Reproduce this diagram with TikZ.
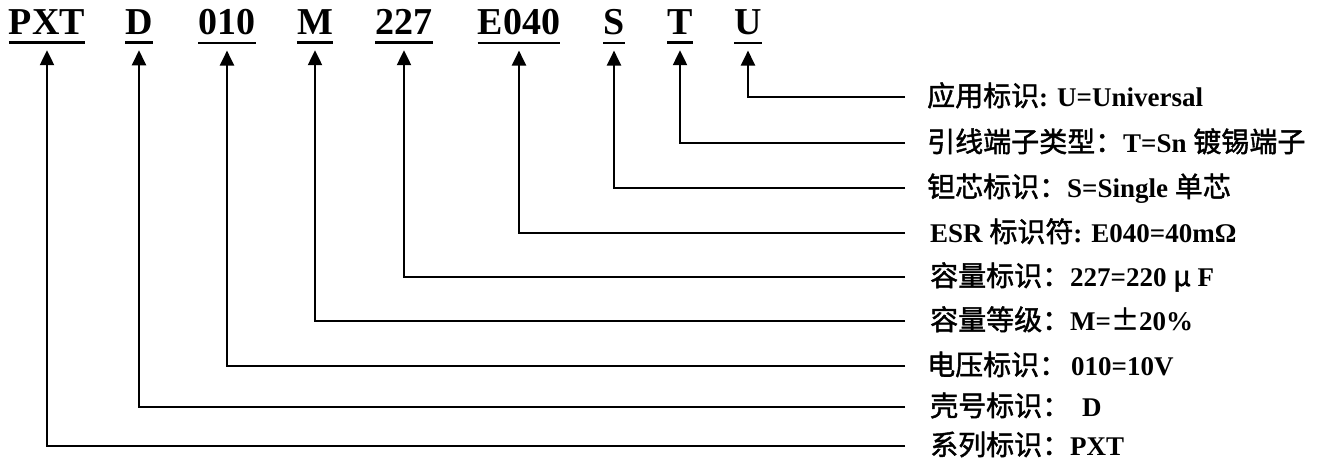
\documentclass[tikz,border=0pt]{standalone}
\usepackage{fontspec}
\setmainfont{Liberation Serif}
\newfontfamily\cjk{Noto Sans CJK SC}[FakeBold=1.5]
\usetikzlibrary{arrows.meta}
\newcommand{\zh}[1]{{\cjk\mdseries\fontsize{28}{30}\selectfont #1}}

\tikzset{
  code/.style={font=\fontsize{38}{40}\selectfont\bfseries, inner sep=0pt, anchor=base},
  desc/.style={font=\fontsize{27}{30}\selectfont\bfseries, inner sep=0pt, anchor=base west},
  lead/.style={line width=2.3pt, -{Triangle[length=15pt,width=14pt]}},
  uline/.style={line width=2.7pt}
}

\begin{document}
\begin{tikzpicture}[x=1pt,y=-1pt]
    \useasboundingbox (0,0) rectangle (1322,459);
    % part number
    \node[code] (pxt) at (47,34) {PXT};
    \node[code] (d) at (139,34) {D};
    \node[code] (volt) at (227,34) {010};
    \node[code] (m) at (315,34) {M};
    \node[code] (cap) at (404,34) {227};
    \node[code] (esr) at (519,34) {E040};
    \node[code] (s) at (614,34) {S};
    \node[code] (t) at (680,34) {T};
    \node[code] (u) at (748,34) {U};
    \foreach \c in {pxt,d,volt,m,cap,esr,s,t,u}
        \draw[uline] ([yshift=-8.5pt]\c.south west) -- ([yshift=-8.5pt]\c.south east);
    % descriptions (baseline 9pt below the leader)
    \node[desc] (du) at (927,106) {\zh{应用标识}: U=Universal};
    \node[desc] (dt) at (927,152) {\zh{引线端子类型：}T=Sn \zh{镀锡端子}};
    \node[desc] (ds) at (927,197) {\zh{钽芯标识：}S=Single \zh{单芯}};
    \node[desc] (desr) at (930,242) {ESR \zh{标识符}: E040=40mΩ};
    \node[desc] (dcap) at (930,286) {\zh{容量标识：}227=220 \zh{μ} F};
    \node[desc] (dm) at (930,330) {\zh{容量等级：}M=\zh{±}20\%};
    \node[desc] (dvolt) at (927,375) {\zh{电压标识：}\hspace{4pt}010=10V};
    \node[desc] (dd) at (930,416) {\zh{壳号标识：}\hspace{12pt}D};
    \node[desc] (dpxt) at (930,455) {\zh{系列标识：}PXT};
    % leaders
    \foreach \c/\l/\g in {u/du/22,t/dt/22,s/ds/22,esr/desr/25,cap/dcap/25,m/dm/25,volt/dvolt/22,d/dd/25,pxt/dpxt/25}
        \draw[lead] ([shift={(-\g pt,9pt)}]\l.base west) -| ([yshift=-16pt]\c.south);
\end{tikzpicture}
\end{document}
